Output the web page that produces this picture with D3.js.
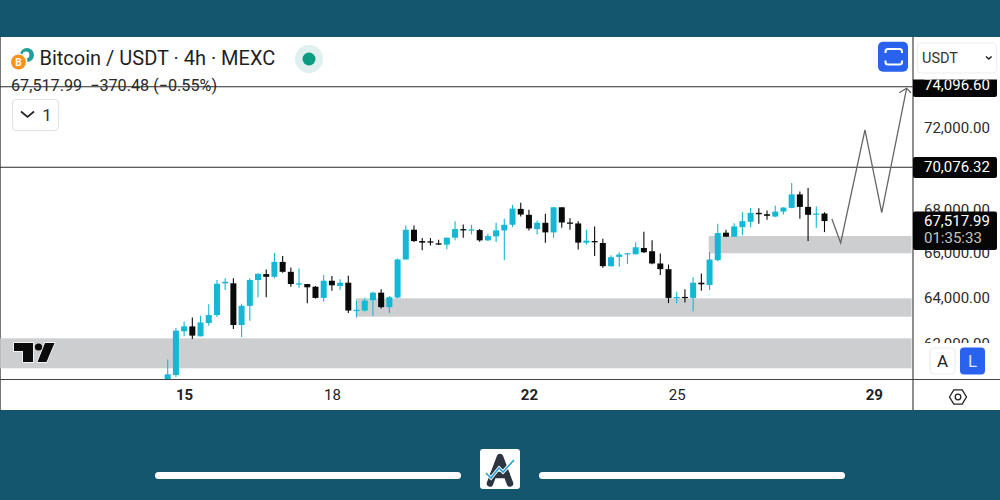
<!DOCTYPE html>
<meta charset="utf-8">
<style>
html, body { margin: 0; padding: 0; background: #15566f; }
svg { display: block; font-family: Roboto, sans-serif; }
</style>
<body>
<script src="https://d3js.org/d3.v7.min.js"></script>
<script>

let opens = [60310,60695,62557,62772,62342,62919,63266,64671,64671,62832,63671,64818,65086,64965,65637,65188,64640,64640,64520,64022,64787,64551,64698,63465,63465,63921,64254,63614,64035,65746,67115,66591,66577,66486,66427,66747,67143,67097,67097,66623,66807,67083,67346,68090,67810,67143,67438,66991,68165,67452,67406,66518,66591,66500,65444,65864,66000,65986,66273,66123,65565,65309,64009,64066,64022,64698,64596,65714,66977,66793,67235,67485,67903,67838,67731,67963,68137,68776,68184,67838,67870];
let highs = [61353,62703,62987,63161,63235,63746,64818,64894,64894,63759,64894,65116,65296,66045,65909,65386,65341,64640,64551,65041,64996,64849,65010,63903,64009,64299,64405,64110,65791,67314,67314,66729,66729,66655,66747,67513,67360,67346,67143,66931,67438,67624,68277,68385,68043,67545,67857,68165,68165,67652,67513,67115,67268,66701,65941,66077,66045,66532,67023,66623,66018,65520,64299,64405,64938,65116,66091,67392,67115,67420,67931,68137,68118,68010,68244,68165,69317,68918,69079,68198,67931];
let lows = [60190,60612,62342,62231,62342,62802,63178,64374,62660,62317,63018,64053,64053,64894,65143,64520,64476,63789,63991,63859,64343,64374,63352,63161,63422,63235,63553,63352,64009,65746,66545,66168,66382,66409,66213,66623,66747,66899,66564,66591,66545,65714,67235,67731,67083,66899,66518,66747,67208,67115,66200,66427,65909,65368,65413,65413,65547,65973,66045,65534,65041,63789,63789,63815,63422,64343,64374,65669,66793,66793,66853,67235,67392,67578,67698,67824,68118,67624,66591,67208,67005];
let closes = [60725,62587,62772,62373,62944,63266,64653,64742,62832,63671,64818,65098,64965,65637,65188,64640,64671,64494,64022,64787,64583,64698,63465,63496,63903,64254,63614,64053,65746,67115,66591,66518,66518,66427,66747,67143,67083,67129,66623,66821,67083,67346,68104,67824,67175,67438,66991,68165,67452,67392,66518,66609,66532,65444,65850,65973,66032,66304,66077,65565,65309,64022,64066,64022,64698,64627,65746,66959,66793,67268,67513,67903,67838,67764,67963,68151,68776,68184,67810,67870,67518];

// zones: candle index from/to, price top/bottom
let zoneFrom = [-20.4, 22.9, 65.9];
let zoneTo = [90.6, 90.6, 90.6];
let zoneHigh = [62257, 64004, 66824];
let zoneLow = [60978, 63195, 66029];

// hand drawn projection
let pathIndex = [80.9, 81.97, 84.93, 86.97, 90];
let pathPrice = [67615, 66501, 71911, 67911, 74017];
let arrowIndex = [89.1, 90, 90.53];
let arrowPrice = [73790, 74017, 73790];

let levels = [74096.60, 70076.32];
let lastPrice = 67517.99;
let countdown = "01:35:33";

let priceTicks = [72000, 68000, 66000, 64000, 62000];
let timeTicks = [2, 20, 44, 62, 86];
let timeLabels = ["15", "18", "22", "25", "29"];
let timeBold = [true, false, true, false, true];

let width = 1000, height = 500;

let x = d3.scaleLinear().domain([0, 80]).range([167.7, 824.5]);
let y = d3.scaleLog().domain([64000, 74096.6]).range([298.4, 86.7]);

let svg = d3.select("body").append("svg").attr("width", width).attr("height", height);

// panel
svg.append("rect").attr("width", width).attr("height", height).attr("fill", "#15566f");
svg.append("rect").attr("y", 37).attr("width", width).attr("height", 373).attr("fill", "#fff");
svg.append("line").attr("x1", 0.5).attr("x2", 0.5).attr("y1", 37).attr("y2", 410).attr("stroke", "#777");

let defs = svg.append("defs");
defs.append("clipPath").attr("id", "plot").append("rect")
	.attr("x", 0).attr("y", 37).attr("width", 912).attr("height", 342);
defs.append("clipPath").attr("id", "topBox").append("rect")
	.attr("x", 913).attr("y", 79.5).attr("width", 87).attr("height", 30);

let plot = svg.append("g").attr("clip-path", "url(#plot)");

plot.selectAll("rect.zone")
	.data(d3.range(zoneFrom.length))
	.enter().append("rect")
	.attr("class", "zone")
	.attr("x", d => x(zoneFrom[d]))
	.attr("width", d => x(zoneTo[d]) - x(zoneFrom[d]))
	.attr("y", d => y(zoneHigh[d]))
	.attr("height", d => y(zoneLow[d]) - y(zoneHigh[d]))
	.attr("fill", "#cdced0");

// TradingView mark
svg.append("path")
	.attr("d", "M14 343H33V362H23V351H14Z M45 343H54.5L46.5 362H37.5Z")
	.attr("fill", "#0b0b0b").attr("stroke", "#fff").attr("stroke-width", 1.4).attr("paint-order", "stroke");
svg.append("circle").attr("cx", 38.5).attr("cy", 347).attr("r", 3.6)
	.attr("fill", "#0b0b0b");

let up = "#14b7d4", down = "#0a0a0a";
let candle = plot.selectAll("g.candle")
	.data(d3.range(opens.length))
	.enter().append("g")
	.attr("class", "candle")
	.attr("fill", d => closes[d] >= opens[d] ? up : down)
	.attr("stroke", d => closes[d] >= opens[d] ? up : down);

candle.append("line")
	.attr("x1", d => x(d)).attr("x2", d => x(d))
	.attr("y1", d => y(highs[d])).attr("y2", d => y(lows[d]))
	.attr("stroke-width", 1.1);

candle.append("rect")
	.attr("x", d => x(d) - 3)
	.attr("width", 6)
	.attr("y", d => y(Math.max(opens[d], closes[d])))
	.attr("height", d => Math.max(1.2, Math.abs(y(opens[d]) - y(closes[d]))))
	.attr("stroke", "none");

// horizontal levels
svg.selectAll("line.level")
	.data(levels)
	.enter().append("line")
	.attr("class", "level")
	.attr("x1", 0).attr("x2", 913)
	.attr("y1", d => y(d)).attr("y2", d => y(d))
	.attr("stroke", "#2a2a2a").attr("stroke-width", 1.1);

let line = d3.line().x(d => x(d[0])).y(d => y(d[1]));
svg.append("path")
	.attr("d", line(d3.zip(pathIndex, pathPrice)))
	.attr("fill", "none").attr("stroke", "#666").attr("stroke-width", 1.3);
svg.append("path")
	.attr("d", line(d3.zip(arrowIndex, arrowPrice)))
	.attr("fill", "none").attr("stroke", "#666").attr("stroke-width", 1.3);

// price axis
let yAxis = svg.append("g")
	.attr("transform", "translate(913,0)")
	.call(d3.axisRight(y).tickValues(priceTicks).tickFormat(d3.format(",.2f")).tickSize(0).tickPadding(11));
yAxis.select(".domain").remove();
yAxis.selectAll("text").attr("font-size", 15).attr("font-family", "Roboto").attr("fill", "#2b2b2b").attr("dy", "0.26em");

// time axis
let xAxis = svg.append("g")
	.attr("transform", "translate(0,379.5)")
	.call(d3.axisBottom(x).tickValues(timeTicks).tickFormat((d, i) => timeLabels[i]).tickSize(0).tickPadding(10));
xAxis.select(".domain").remove();
xAxis.selectAll("text")
	.attr("font-size", 15).attr("font-family", "Roboto").attr("fill", "#222")
	.attr("font-weight", (d, i) => timeBold[i] ? 700 : 400);

// covers for the price labels
svg.append("rect").attr("x", 914).attr("y", 343).attr("width", 86).attr("height", 36).attr("fill", "#fff");

svg.append("line").attr("x1", 0).attr("x2", 1000).attr("y1", 379.5).attr("y2", 379.5).attr("stroke", "#444").attr("stroke-width", 1.2);
svg.append("line").attr("x1", 913).attr("x2", 913).attr("y1", 37).attr("y2", 410).attr("stroke", "#444").attr("stroke-width", 1.2);

// price tags
let fmt = d3.format(",.2f");
let topTag = svg.append("g").attr("clip-path", "url(#topBox)");
topTag.append("rect").attr("x", 913).attr("y", 74).attr("width", 84).attr("height", 23).attr("rx", 2).attr("fill", "#060606");
topTag.append("text").attr("x", 924).attr("y", 90).attr("font-size", 15).attr("fill", "#fff").text(fmt(levels[0]));

svg.append("rect").attr("x", 913).attr("y", 157).attr("width", 84).attr("height", 21).attr("rx", 2).attr("fill", "#060606");
svg.append("text").attr("x", 924).attr("y", 171.5).attr("font-size", 15).attr("fill", "#fff").text(fmt(levels[1]));

svg.append("rect").attr("x", 913).attr("y", 211.5).attr("width", 84).attr("height", 38.5).attr("rx", 2).attr("fill", "#060606");
svg.append("text").attr("x", 924).attr("y", 225.5).attr("font-size", 15).attr("fill", "#fff").text(fmt(lastPrice));
svg.append("text").attr("x", 924).attr("y", 243).attr("font-size", 15).attr("fill", "#c4c4c4").text(countdown);

// legend
svg.append("circle").attr("cx", 27).attr("cy", 55).attr("r", 7).attr("fill", "#1f9f97");
svg.append("circle").attr("cx", 26).attr("cy", 55).attr("r", 3.4).attr("fill", "#fff");
svg.append("circle").attr("cx", 19).attr("cy", 62).attr("r", 8.5).attr("fill", "#fff");
svg.append("circle").attr("cx", 18.5).attr("cy", 62).attr("r", 7.5).attr("fill", "#f7931a");
svg.append("text").attr("x", 18.5).attr("y", 65.5).attr("text-anchor", "middle").attr("font-size", 10).attr("font-weight", 700).attr("fill", "#fff").text("B");
svg.append("text").attr("x", 39.5).attr("y", 65).attr("font-size", 20).attr("fill", "#1f1f1f").text("Bitcoin / USDT · 4h · MEXC");

svg.append("circle").attr("cx", 309).attr("cy", 59).attr("r", 14).attr("fill", "#dff0ee");
svg.append("circle").attr("cx", 309).attr("cy", 59).attr("r", 6.5).attr("fill", "#0a9b80");

let legend = svg.append("text").attr("x", 11).attr("y", 91).attr("font-size", 16.2).attr("fill", "#2a2a2a");
legend.text("67,517.99  −370.48 (−0.55%)").style("white-space", "pre");

svg.append("rect").attr("x", 12.5).attr("y", 99.5).attr("width", 46).attr("height", 31).attr("rx", 4)
	.attr("fill", "#fff").attr("stroke", "#e2e2e2").attr("stroke-width", 1.2);
svg.append("path").attr("d", "M21 111.5L27.5 117L34 111.5").attr("fill", "none").attr("stroke", "#222").attr("stroke-width", 1.7);
svg.append("text").attr("x", 47).attr("y", 120.5).attr("text-anchor", "middle").attr("font-size", 17).attr("fill", "#333").text("1");

// fullscreen button
svg.append("rect").attr("x", 878).attr("y", 41.7).attr("width", 30).attr("height", 30).attr("rx", 5).attr("fill", "#2962ee");
svg.append("path")
	.attr("d", "M885.5 53V51.5Q885.5 49 888 49H899.5Q902 49 902 51.5V53 M885.5 60.5V62Q885.5 64.5 888 64.5H899.5Q902 64.5 902 62V60.5")
	.attr("fill", "none").attr("stroke", "#fff").attr("stroke-width", 2);

// currency select
svg.append("rect").attr("x", 917.5).attr("y", 43).attr("width", 79).attr("height", 30).attr("rx", 4)
	.attr("fill", "#fff").attr("stroke", "#eeeeee").attr("stroke-width", 1.2);
svg.append("text").attr("x", 922).attr("y", 62.5).attr("font-size", 14.5).attr("fill", "#333").text("USDT");
svg.append("path").attr("d", "M986 56.5L988.8 59L991.6 56.5").attr("fill", "none").attr("stroke", "#222").attr("stroke-width", 1.6);

// scale mode buttons
svg.append("rect").attr("x", 930).attr("y", 348).attr("width", 25).attr("height", 26).attr("rx", 4)
	.attr("fill", "#fff").attr("stroke", "#ececec").attr("stroke-width", 1.2);
svg.append("text").attr("x", 942.5).attr("y", 367).attr("text-anchor", "middle").attr("font-size", 17).attr("fill", "#222").text("A");
svg.append("rect").attr("x", 960).attr("y", 347.5).attr("width", 25).attr("height", 27).attr("rx", 4).attr("fill", "#2962ee");
svg.append("text").attr("x", 972.5).attr("y", 367).attr("text-anchor", "middle").attr("font-size", 17).attr("fill", "#dbe6ff").text("L");

// settings hexagon
svg.append("path").attr("d", "M949.5 397L953.8 389.8H962.2L966.5 397L962.2 404.2H953.8Z")
	.attr("fill", "none").attr("stroke", "#222").attr("stroke-width", 1.3);
svg.append("circle").attr("cx", 958).attr("cy", 397).attr("r", 2.8).attr("fill", "none").attr("stroke", "#222").attr("stroke-width", 1.3);

// footer
svg.append("rect").attr("x", 155).attr("y", 472).attr("width", 306).attr("height", 7).attr("rx", 3.5).attr("fill", "#fff");
svg.append("rect").attr("x", 539).attr("y", 472).attr("width", 306).attr("height", 7).attr("rx", 3.5).attr("fill", "#fff");
svg.append("rect").attr("x", 480).attr("y", 449).attr("width", 40).attr("height", 40).attr("rx", 3).attr("fill", "#fff");
svg.append("path").attr("d", "M490 483.5L500 457L510 483.5 M493 475H507")
	.attr("fill", "none").attr("stroke", "#2c3540").attr("stroke-width", 6.5).attr("stroke-linecap", "round").attr("stroke-linejoin", "round");
svg.append("path").attr("d", "M486 473L491 478L499 468L503 472L514 460")
	.attr("fill", "none").attr("stroke", "#fff").attr("stroke-width", 3.4);
svg.append("path").attr("d", "M486 473L491 478L499 468L503 472L514 460")
	.attr("fill", "none").attr("stroke", "#2a9fd0").attr("stroke-width", 1.6);

</script>
</body>
